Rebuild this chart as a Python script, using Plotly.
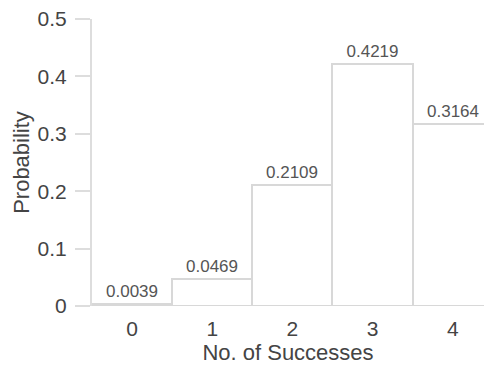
import plotly.graph_objects as go

successes = [0, 1, 2, 3, 4]
probabilities = [0.0039, 0.0469, 0.2109, 0.4219, 0.3164]
prob_labels = ["0.0039", "0.0469", "0.2109", "0.4219", "0.3164"]
y_ticks = [0, 0.1, 0.2, 0.3, 0.4, 0.5]
y_tick_labels = ["0", "0.1", "0.2", "0.3", "0.4", "0.5"]

fig = go.Figure()
fig.add_trace(go.Bar(
    x=successes,
    y=probabilities,
    text=prob_labels,
    textposition="outside",
    textfont=dict(family="Liberation Sans, Arial, sans-serif", size=17, color="#555"),
    marker=dict(color="white", line=dict(color="#d8d8d8", width=2)),
    cliponaxis=False,
    width=1,
))

fig.update_layout(
    width=484, height=366,
    margin=dict(l=92, r=0, t=19, b=60, autoexpand=False),
    paper_bgcolor="white", plot_bgcolor="white",
    bargap=0,
    showlegend=False,
    font=dict(family="Liberation Sans, Arial, sans-serif", color="#444"),
    xaxis=dict(
        range=[-0.5, 4.39],
        tickvals=successes,
        ticktext=[str(s) for s in successes],
        showgrid=False, zeroline=False, showline=False,
        ticks="", ticklabelstandoff=8,
        automargin=False,
        tickfont=dict(size=21, color="#444"),
        title=dict(text="No. of Successes", font=dict(size=22, color="#444"), standoff=4),
    ),
    yaxis=dict(
        range=[0, 0.5],
        tickvals=y_ticks,
        ticktext=y_tick_labels,
        showgrid=False, zeroline=False,
        showline=True, linecolor="#dddddd", linewidth=2,
        ticks="outside", ticklen=15, tickcolor="#dddddd", tickwidth=2,
        ticklabelstandoff=4,
        automargin=False,
        tickfont=dict(size=21, color="#444"),
        title=dict(text="Probability", font=dict(size=22, color="#444"), standoff=2),
    ),
)

fig.write_html(
    "out.html",
    config={"displayModeBar": False},
    post_script="document.body.style.margin='0';document.body.style.overflow='hidden';",
)
